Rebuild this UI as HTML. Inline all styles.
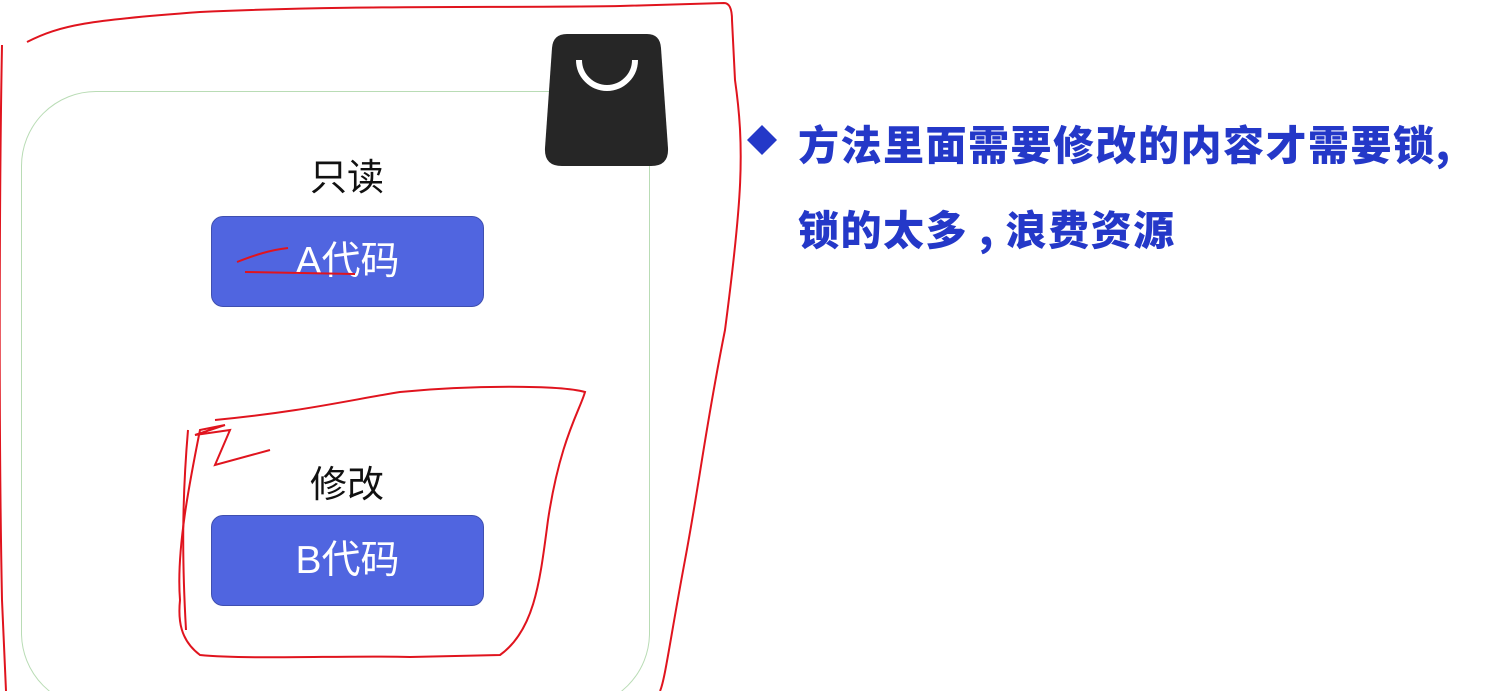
<!DOCTYPE html>
<html><head><meta charset="utf-8"><style>
html,body{margin:0;width:1509px;height:691px;overflow:hidden;background:#fff}
body{position:relative;font-family:"Liberation Sans","Noto Sans CJK SC",sans-serif}
.g{position:absolute;left:21px;top:91px;width:627px;height:615px;border:1.5px solid #b9dcb5;border-radius:75px}
.b{position:absolute;left:211px;width:271px;height:89px;background:#5065e0;border:1.5px solid #3f4fb0;border-radius:12px;color:#fff;font-size:39px;text-align:center;line-height:89px}
.l{position:absolute;left:247px;width:200px;text-align:center;font-size:37px;color:#111}
.t{position:absolute;left:798px;color:#2438c8;font-weight:900;font-size:41px;letter-spacing:1.5px;white-space:nowrap;font-family:"Noto Sans CJK SC",sans-serif}
</style></head><body>
<div class="g"></div>
<div class="l" style="top:147px">只读</div>
<div class="b" style="top:216px">A代码</div>
<div class="l" style="top:454px">修改</div>
<div class="b" style="top:515px">B代码</div>
<svg style="position:absolute;left:0;top:0" width="1509" height="691">
<path d="M567,34 H647 Q660,34 661,48 L668,148 Q669,166 651,166 H562 Q544,166 545,148 L552,48 Q553,34 567,34Z" fill="#262626"/>
<path d="M579,60 A28,28 0 0 0 635,60" fill="none" stroke="#fff" stroke-width="6"/>
<polygon points="762,125 777,140 762,155 747,140" fill="#2438c8"/>
<g fill="none" stroke="#e0141e" stroke-width="2">
<path d="M27,42 C60,25 90,20 200,12 C350,5 500,8 620,6 L724,3 Q732,3 732,20 L735,80 C745,150 742,200 725,330 C705,430 700,480 685,560 C670,640 665,680 660,691"/>
<path d="M2,45 C0,150 -2,400 2,600 L6,691"/>
<path d="M215,420 C300,412 350,400 400,392 C470,385 560,385 585,392 C580,410 560,440 548,520 C540,580 535,630 500,655 L410,657 C350,655 250,660 200,655 C180,640 178,620 180,600 C176,550 190,480 200,430 L225,425 L195,435 L230,430 L215,465 L270,450"/>
<path d="M188,430 C182,500 182,560 186,630"/>
<path d="M237,262 C255,255 270,250 288,248"/>
<path d="M245,272 L355,274"/>
</g>
</svg>
<div class="t" style="top:112px">方法里面需要修改的内容才需要锁,</div>
<div class="t" style="top:197px">锁的太多 , 浪费资源</div>
</body></html>
